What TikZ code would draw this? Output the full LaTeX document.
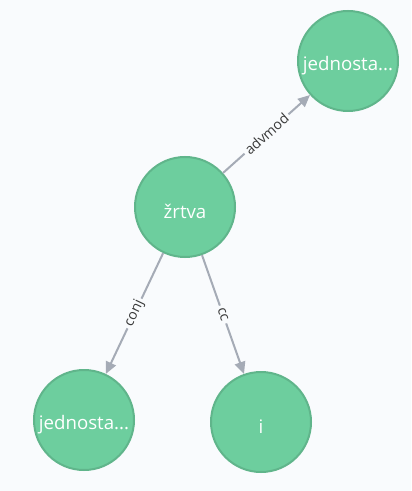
\documentclass[tikz,border=0pt]{standalone}
\usepackage{fontspec}
\setmainfont{Open Sans}
\usetikzlibrary{arrows.meta}
\definecolor{bgc}{HTML}{F9FBFD}
\definecolor{nodefill}{HTML}{6DCE9E}
\definecolor{nodestroke}{HTML}{60B58B}
\definecolor{edgec}{HTML}{A5ABB6}
\definecolor{lblc}{HTML}{3A3A3A}
\newcommand\ntxt[1]{\raisebox{-3.5pt}[\height][\depth]{#1}}
\begin{document}
\begin{tikzpicture}[x=0.75pt,y=-0.75pt,
  ent/.style={circle, fill=nodefill, draw=nodestroke, line width=1.5pt,
    minimum size=75pt, inner sep=0pt, text=white,
    font=\fontsize{14pt}{16pt}\selectfont},
  rel/.style={draw=edgec, line width=1.5pt,
    -{Triangle[length=9pt,width=8pt]}},
  rlabel/.style={midway, sloped, fill=bgc, inner sep=2pt, text=lblc,
    font=\fontsize{10.5pt}{12pt}\selectfont}]
\fill[bgc] (0,0) rectangle (411,491);
\useasboundingbox (0,0) rectangle (411,491);
\node[ent] (z) at (185,207) {\ntxt{žrtva}};
\node[ent] (a) at (348,61) {\ntxt{jednosta...}};
\node[ent] (b) at (84,420) {\ntxt{jednosta...}};
\node[ent] (c) at (261,422) {\ntxt{i}};
\draw[rel] (z) -- node[rlabel] {advmod} (a);
\draw[rel] (z) -- node[rlabel] {conj} (b);
\draw[rel] (z) -- node[rlabel] {cc} (c);
\end{tikzpicture}
\end{document}
